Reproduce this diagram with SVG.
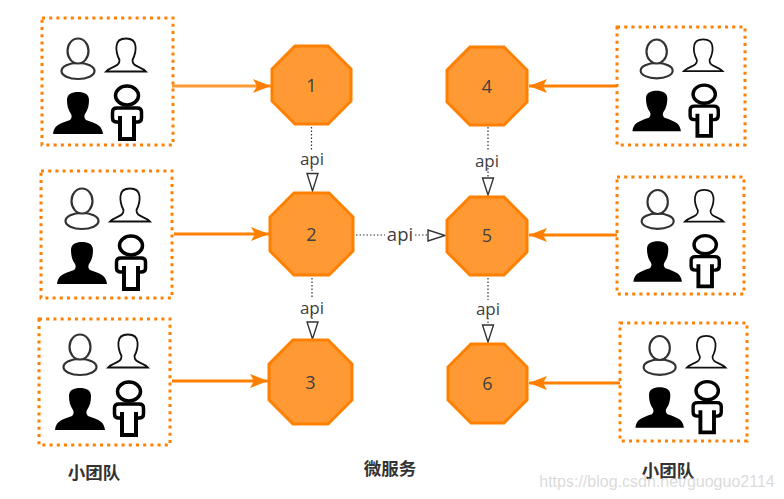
<svg xmlns="http://www.w3.org/2000/svg" width="784" height="499" viewBox="0 0 784 499">
<style>
text{font-family:"Open Sans","Noto Sans",sans-serif;fill:#404040;text-anchor:middle}
.n{font-size:18px}.a{font-size:17px}
.h{font-family:"Noto Sans CJK SC",sans-serif;font-size:17.500px;font-weight:700;fill:#333}
.box{fill:none;stroke:#ff8000;stroke-width:3;stroke-dasharray:3 4.2}
.oct{fill:#ff9933;stroke:#ff8000;stroke-width:3}
.flow{stroke:#ff8000;stroke-width:3;fill:none;marker-end:url(#f)}
.api{stroke:#333;stroke-width:1.2;stroke-dasharray:1.5 2;fill:none}
</style>
<defs>
<marker id="f" markerUnits="userSpaceOnUse" markerWidth="20" markerHeight="14" refX="18" refY="7" orient="auto"><path d="M0 0L18 7L0 14L4 7Z" fill="#ff8000"/></marker>
<symbol id="people" overflow="visible" width="1" height="1">
<ellipse cx="78" cy="71" rx="16.500" ry="8" fill="#fff" stroke="#333" stroke-width="2.200"/>
<ellipse cx="78" cy="51" rx="10.500" ry="12.500" fill="#fff" stroke="#333" stroke-width="2.200"/>
<path d="M106 71.500C111 66 120 67 119.500 60C117 55 116 50 116.500 46C117 40 122 38.500 126 38.500C131 38.500 135 41 135.500 46C136 50 135 55 132.500 60C132 67 141 66 146 71.500Z" fill="#fff" stroke="#111" stroke-width="1.800"/>
<path d="M53 134C54 126 58 124 70 120C72 118 72 116 71 114C68 110 67 105 67 100C67 94 72 92 78 92C84 92 89 94 89 100C89 105 88 110 85 114C84 116 84 118 86 120C98 124 102 126 103 134Z" fill="#000"/>
<ellipse cx="127" cy="95.500" rx="11.500" ry="9.500" fill="#fff" stroke="#000" stroke-width="3.500"/>
<path d="M120 122H117Q112.500 122 112.500 118V112Q112.500 108 117 108H137Q141.500 108 141.500 112V118Q141.500 122 137 122H134" fill="#fff" stroke="#000" stroke-width="3.500"/>
<path d="M120 116V139H134V116" fill="#fff" stroke="#000" stroke-width="4"/>
</symbol>
</defs>
<g id="connectors">
<path class="flow" d="M172 86H271" style="stroke:#ff9933"/>
<path class="flow" d="M174 234H269"/>
<path class="flow" d="M172 381H268"/>
<path class="flow" d="M617 86H529"/>
<path class="flow" d="M617 235H529"/>
<path class="flow" d="M620 383H529"/>
<path class="api" d="M311.500 127V150M312 166V172"/><path class="api" d="M312 278V298M312 314V321"/>
<path class="api" d="M488 127V150M488 168V177"/><path class="api" d="M488 278V300M488 318V325"/>
<path class="api" d="M356 235H385M415 235H428"/>
<g fill="#fff" stroke="#333" stroke-width="1.400">
<path d="M307 173.500H318L312.500 191Z"/>
<path d="M307 322H318L312.500 339Z"/>
<path d="M482.500 178H493.500L488 195Z"/>
<path d="M482.500 325H493.500L488 342Z"/>
<path d="M428 230V241L445 235.500Z"/>
</g>
<text class="a" x="312" y="165">api</text>
<text class="a" x="312" y="314">api</text>
<text class="a" x="487" y="167">api</text>
<text class="a" x="488" y="315">api</text>
<text class="a" x="400" y="241" style="font-size:18.500px">api</text>
</g>
<g id="team1"><rect class="box" x="42" y="18" width="131" height="127"/><use href="#people"/></g>
<g id="team2"><rect class="box" x="41" y="171" width="131" height="127"/><use href="#people" x="4" y="150"/></g>
<g id="team3"><rect class="box" x="39" y="319" width="131" height="126"/><use href="#people" x="2" y="296"/></g>
<g id="team4"><rect class="box" x="617" y="27" width="128" height="118"/><use href="#people" transform="translate(581 2.500) scale(.97 .96)"/></g>
<g id="team5"><rect class="box" x="617" y="177" width="127" height="117"/><use href="#people" transform="translate(582 153) scale(.97 .96)"/></g>
<g id="team6"><rect class="box" x="620" y="323" width="127" height="118"/><use href="#people" transform="translate(584 299) scale(.97 .96)"/></g>
<g id="node1"><path class="oct" d="M295 46H328L351 69V101L328 124H295L272 101V69Z"/><text class="n" x="311.500" y="92">1</text></g>
<g id="node2"><path class="oct" d="M294 193H329L353 217V251L329 275H294L270 251V217Z"/><text class="n" x="311.500" y="241">2</text></g>
<g id="node3"><path class="oct" d="M293 340H328L352 364V400L328 424H293L269 400V364Z"/><text class="n" x="310.500" y="389">3</text></g>
<g id="node4"><path class="oct" d="M470 47H504L527 70V102L504 125H470L447 102V70Z"/><text class="n" x="487" y="93">4</text></g>
<g id="node5"><path class="oct" d="M470 197H504L527 220V252L504 275H470L447 252V220Z"/><text class="n" x="487" y="242">5</text></g>
<g id="node6"><path class="oct" d="M471 344H504L527 367V400L504 423H471L448 400V367Z"/><text class="n" x="487.500" y="390">6</text></g>
<text class="h" x="94" y="479">小团队</text>
<text class="h" x="390" y="475">微服务</text>
<text class="h" x="668" y="477">小团队</text>
<text x="657" y="487" style="font-family:'Liberation Sans',sans-serif;font-size:16px;fill:#bbb;fill-opacity:.55;text-anchor:middle">https://blog.csdn.net/guoguo2114</text>
</svg>
